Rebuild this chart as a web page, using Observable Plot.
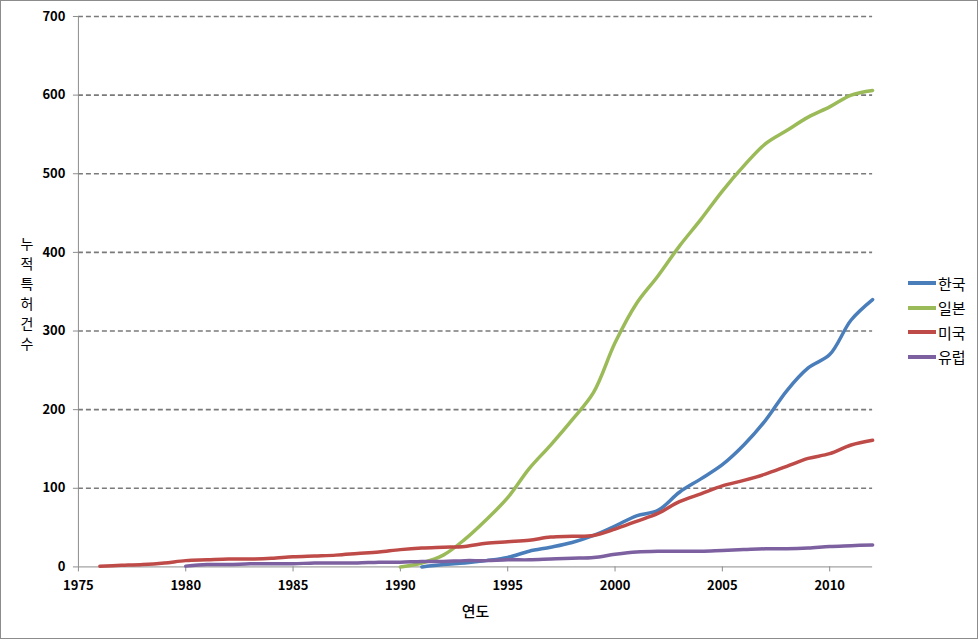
<!DOCTYPE html>
<html><head><meta charset="utf-8">
<script src="https://cdn.jsdelivr.net/npm/d3@7"></script>
<script src="https://cdn.jsdelivr.net/npm/@observablehq/plot@0.6"></script>
<style>
body{margin:0;background:#fff;}
#wrap{position:relative;width:978px;height:639px;box-sizing:border-box;border:1px solid #8c8c8c;overflow:hidden;font-family:"Noto Sans CJK KR",sans-serif;}
#chart{position:absolute;left:-1px;top:-1px;}
#ylab{position:absolute;left:19px;top:232px;font-size:14px;line-height:20px;color:#000;width:14px;text-align:center;}
#legend{position:absolute;left:907px;top:270px;font-size:15px;}
.item{display:flex;align-items:center;height:24.5px;}
.sw{width:28px;height:4px;margin-right:2px;}
</style></head>
<body>
<div id="wrap"><div id="chart"></div><div id="ylab"></div><div id="legend"></div></div>
<script>
const seriesNames = ["한국", "일본", "미국", "유럽"];
const seriesColors = ["#4A7EBB", "#9BBB59", "#BE4B48", "#7D60A0"];
const yTicks = [0, 100, 200, 300, 400, 500, 600, 700];
const xTicks = [1975, 1980, 1985, 1990, 1995, 2000, 2005, 2010];
const yAxisLabel = "누적특허건수";
const xAxisLabel = "연도";

const yearsKorea = [1991,1992,1993,1994,1995,1996,1997,1998,1999,2000,2001,2002,2003,2004,2005,2006,2007,2008,2009,2010,2011,2012];
const korea = [0,3,5,8,12,20,25,31,40,52,65,72,95,112,130,155,186,224,253,270,314,340];

const yearsJapan = [1990,1991,1992,1993,1994,1995,1996,1997,1998,1999,2000,2001,2002,2003,2004,2005,2006,2007,2008,2009,2010,2011,2012];
const japan = [0,5,15,35,60,88,125,155,187,222,285,335,370,408,442,478,510,538,555,572,585,600,606];

const yearsUS = [1976,1977,1978,1979,1980,1981,1982,1983,1984,1985,1986,1987,1988,1989,1990,1991,1992,1993,1994,1995,1996,1997,1998,1999,2000,2001,2002,2003,2004,2005,2006,2007,2008,2009,2010,2011,2012];
const us = [1,2,3,5,8,9,10,10,11,13,14,15,17,19,22,24,25,26,30,32,34,38,39,40,48,58,68,83,93,103,110,118,128,138,144,155,161];

const yearsEU = [1980,1981,1982,1983,1984,1985,1986,1987,1988,1989,1990,1991,1992,1993,1994,1995,1996,1997,1998,1999,2000,2001,2002,2003,2004,2005,2006,2007,2008,2009,2010,2011,2012];
const eu = [1,3,3,4,4,4,5,5,5,6,6,7,7,8,8,9,9,10,11,12,16,19,20,20,20,21,22,23,23,24,26,27,28];

const seriesYears = [yearsKorea, yearsJapan, yearsUS, yearsEU];
const seriesValues = [korea, japan, us, eu];
const data = seriesNames.flatMap((name, i) => seriesYears[i].map((yr, j) => ({series: name, year: yr, value: seriesValues[i][j]})));

const chart = Plot.plot({
  width: 978, height: 639,
  marginLeft: 78, marginRight: 105, marginTop: 16, marginBottom: 72,
  style: {fontFamily: '"Noto Sans CJK KR", sans-serif', fontSize: "13px", fontWeight: "bold", color: "#000", background: "transparent"},
  x: {domain: [1975, 2012], ticks: xTicks, tickFormat: d => String(d), tickSize: 5, tickPadding: 9, label: null},
  y: {domain: [0, 700], ticks: yTicks, tickSize: 5, tickPadding: 8, label: null},
  color: {domain: seriesNames, range: seriesColors},
  marks: [
    Plot.ruleY(yTicks.filter(d => d > 0), {stroke: "#7a7a7a", strokeWidth: 1.6, strokeDasharray: "5,3", strokeOpacity: 1}),
    Plot.ruleX([1975], {stroke: "#8c8c8c", strokeWidth: 1}),
    Plot.ruleY([0], {stroke: "#8c8c8c", strokeWidth: 1}),
    Plot.axisX({ticks: xTicks, tickFormat: d => String(d), tickSize: 5, tickPadding: 9, stroke: "#8c8c8c", fontWeight: "bold"}),
    Plot.axisY({ticks: yTicks, tickSize: 5, tickPadding: 8, stroke: "#8c8c8c", fontWeight: "bold"}),
    Plot.text([xAxisLabel], {frameAnchor: "bottom", dy: 50, fontSize: 15, fontWeight: 500, fill: "#000"}),
    Plot.line(data, {x: "year", y: "value", z: "series", stroke: "series", strokeWidth: 3.5, curve: "catmull-rom"})
  ]
});
document.getElementById("chart").appendChild(chart);

document.getElementById("ylab").innerHTML = [...yAxisLabel].map(c => `<div>${c}</div>`).join("");
document.getElementById("legend").innerHTML = seriesNames.map((n, i) =>
  `<div class="item"><div class="sw" style="background:${seriesColors[i]}"></div><span>${n}</span></div>`).join("");
</script>
</body></html>
